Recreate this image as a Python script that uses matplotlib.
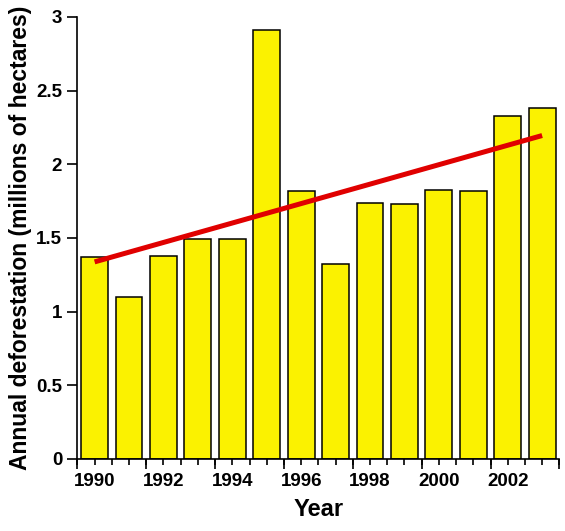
import matplotlib
matplotlib.use('Agg')
import matplotlib.pyplot as plt
import numpy as np

# ---------------------- data -------------------------
years   = [1990, 1991, 1992, 1993, 1994, 1995, 1996, 1997, 1998, 1999, 2000, 2001, 2002, 2003]
defor   = [1.37, 1.10, 1.38, 1.49, 1.49, 2.91, 1.815, 1.32, 1.74, 1.727, 1.822, 1.815, 2.33, 2.38]
trend_x = [1990, 2003]
trend_y = [1.337, 2.195]
label_years = [1990, 1992, 1994, 1996, 1998, 2000, 2002]
ytick_vals  = [0, 0.5, 1, 1.5, 2, 2.5, 3]
ytick_lbls  = ['0', '0.5', '1', '1.5', '2', '2.5', '3']

plt.rcParams['font.family'] = ['Liberation Sans', 'DejaVu Sans']
plt.rcParams['font.weight'] = 'bold'

fig = plt.figure(figsize=(5.65, 5.31), dpi=100)
ax  = fig.add_axes([0.137, 0.136, 0.853, 0.832])

# ---------------------- bars + trend -------------------------
ax.bar(years, defor, width=0.78, color='#fbf200', edgecolor='black', linewidth=1.1, zorder=2)
ax.plot(trend_x, trend_y, color='#e00000', linewidth=3.6, solid_capstyle='butt', zorder=3)

ax.set_xlim(1989.5, 2003.5)
ax.set_ylim(0, 3)

for s in ['top', 'right']:
    ax.spines[s].set_visible(False)
for s in ['left', 'bottom']:
    ax.spines[s].set_linewidth(1.2)

# y axis
ax.set_yticks(ytick_vals, ytick_lbls)
ax.tick_params(axis='y', length=7, width=1.2, pad=4, labelsize=13.5)

# x axis: labels on the bar centres, short ticks every half year
ax.set_xticks(label_years, [str(y) for y in label_years])
ax.set_xticks(np.arange(1989.5, 2003.6, 0.5), minor=True)
ax.tick_params(axis='x', which='both', length=4, width=1.2, pad=6, labelsize=13.5)

# long ticks at every second bar edge
sec = ax.secondary_xaxis('bottom')
sec.set_xticks(np.arange(1989.5, 2003.6, 2.0), ['' for _ in np.arange(1989.5, 2003.6, 2.0)])
sec.tick_params(length=7, width=1.2)
sec.spines['bottom'].set_visible(False)

ax.set_xlabel('Year', fontsize=17, fontweight='bold', labelpad=6)
ax.set_ylabel('Annual deforestation (millions of hectares)', fontsize=16.5, fontweight='bold', labelpad=3)

fig.savefig('out.png', dpi=100)
